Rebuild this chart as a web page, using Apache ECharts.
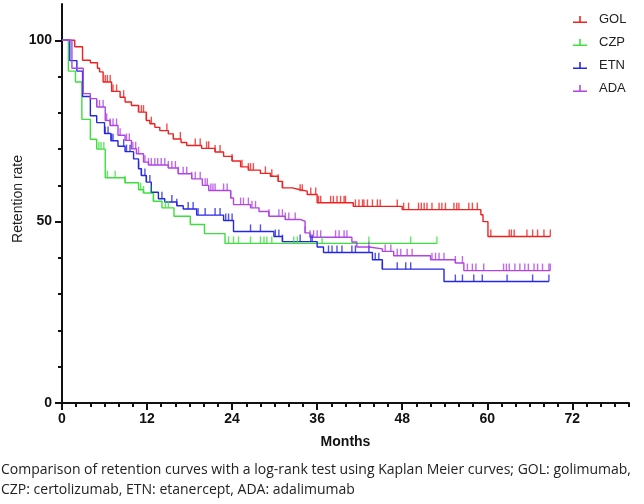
<!DOCTYPE html>
<html lang="en">
<head>
    <meta charset="UTF-8">
    <title>Retention curves</title>
    <script type="text/javascript" src="https://cdn.jsdelivr.net/npm/echarts@6/dist/echarts.min.js"></script>
    <style>
        body { margin: 0; background: #fff; }
        #main { width: 644px; height: 504px; }
    </style>
</head>
<body>
<div id="main"></div>

<script>
    // step points (months, retention %)
    var golT = [0, 1.8, 2.9, 4.0, 5.0, 5.3, 5.8, 7.0, 8.2, 8.9, 9.8, 10.8, 11.9, 12.4, 13.1, 13.8, 15.0, 15.7, 16.8, 17.6,
        19.7, 21.6, 22.8, 24.0, 25.2, 26.3, 28.0, 29.4, 30.5, 31.1, 32.5, 33.6, 34.6, 36.0, 41.1, 48.0, 59.1, 59.4, 60.1, 68.9];
    var golV = [100, 98.2, 94.5, 93.8, 92.3, 91.3, 88.5, 85.9, 84.3, 83.0, 82.0, 80.2, 77.9, 77.0, 76.0, 75.1, 74.2, 72.8, 71.8, 71.0,
        70.2, 69.2, 68.0, 66.7, 65.1, 64.2, 63.3, 62.5, 61.1, 59.3, 58.8, 58.4, 57.5, 55.2, 54.2, 53.3, 51.9, 50.0, 45.9, 45.9];

    var czpT = [0, 0.9, 1.9, 2.8, 4.0, 4.9, 6.1, 8.9, 10.8, 11.5, 12.9, 14.1, 15.8, 18.1, 20.1, 23.0, 52.9];
    var czpV = [100, 91.5, 88.5, 78.2, 72.7, 70.0, 62.1, 60.7, 58.8, 57.9, 55.6, 53.8, 51.5, 49.2, 46.7, 44.0, 44.0];

    var etnT = [0, 1.1, 2.1, 2.9, 4.0, 4.9, 6.0, 6.9, 7.9, 8.9, 10.1, 10.8, 11.2, 11.9, 12.6, 13.6, 14.5, 16.2, 17.1, 19.0,
        22.8, 24.2, 29.9, 31.1, 36.0, 36.9, 43.8, 45.2, 53.9, 68.7];
    var etnV = [100, 94.4, 91.5, 84.5, 79.2, 77.3, 74.3, 72.3, 70.8, 69.3, 67.3, 64.6, 62.7, 60.9, 58.1, 56.3, 55.4, 54.4, 53.5, 51.8,
        50.3, 47.3, 45.9, 44.5, 43.0, 41.5, 39.5, 36.9, 33.5, 33.5];

    var adaT = [0, 1.4, 3.0, 4.0, 4.9, 6.1, 6.8, 7.9, 8.9, 9.8, 10.5, 11.5, 12.2, 15.0, 16.4, 18.3, 19.8, 20.7, 23.8, 24.2,
        26.6, 27.8, 29.2, 31.5, 33.6, 34.3, 35.0, 40.9, 41.6, 43.3, 45.2, 46.8, 52.0, 55.5, 56.7, 68.9];
    var adaV = [100, 92.3, 85.3, 83.9, 81.6, 77.9, 76.5, 73.8, 72.4, 70.1, 68.7, 66.4, 65.6, 64.8, 63.2, 61.8, 60.0, 58.6, 56.5, 54.7,
        53.8, 52.8, 51.5, 50.6, 50.1, 46.9, 45.7, 44.4, 43.0, 42.5, 41.8, 40.6, 39.5, 38.6, 36.5, 36.5];

    // censored times (months)
    var golCens = [6.1, 6.4, 6.8, 7.2, 7.7, 8.7, 10.8, 11.2, 11.5, 11.9, 12.6, 14.8, 16.7, 18.8, 19.5, 20.4, 20.7, 21.6, 22.3, 24.0,
        25.4, 26.3, 26.6, 27.0, 28.7, 29.6, 30.5, 31.1, 33.6, 33.9, 35.1, 35.8, 36.2, 36.5, 37.9, 38.3, 38.8, 39.3, 39.8, 40.0,
        41.4, 41.9, 42.4, 42.6, 43.1, 43.8, 44.5, 44.9, 47.3, 48.2, 48.9, 50.3, 50.7, 51.1, 51.5, 52.2, 53.2, 53.6, 54.1, 55.3,
        55.7, 56.0, 57.4, 57.9, 58.6, 60.5, 63.1, 63.4, 63.8, 65.6, 66.4, 67.1, 68.0, 68.9];
    var czpCens = [5.2, 5.5, 5.9, 6.4, 7.5, 8.9, 11.1, 11.5, 12.5, 12.9, 14.6, 15.0, 23.5, 24.2, 24.9, 26.6, 28.0, 28.5, 28.9, 29.6,
        32.7, 33.2, 36.7, 43.3, 49.2, 52.9];
    var etnCens = [6.1, 6.5, 7.0, 7.2, 8.7, 9.1, 9.6, 10.8, 11.2, 11.7, 11.9, 12.4, 14.1, 15.5, 16.2, 17.8, 18.5, 19.2, 20.2, 21.6,
        22.3, 23.1, 23.5, 24.0, 26.6, 28.0, 30.1, 30.6, 31.1, 33.6, 35.1, 35.3, 37.6, 38.1, 38.8, 39.5, 40.9, 41.4, 43.3, 44.2,
        44.7, 45.2, 47.3, 48.5, 49.2, 55.5, 56.5, 58.1, 59.3, 62.8, 66.4, 68.7];
    var adaCens = [4.9, 5.3, 5.8, 6.3, 6.8, 7.2, 7.7, 8.2, 9.1, 9.5, 10.0, 10.4, 10.8, 11.7, 12.2, 12.6, 13.1, 13.5, 14.0, 14.5,
        15.0, 15.5, 16.0, 16.4, 17.1, 17.6, 18.3, 18.8, 19.5, 20.2, 20.5, 21.0, 21.3, 21.6, 22.8, 23.3, 23.8, 25.2, 25.6, 26.3,
        26.8, 27.3, 29.2, 30.6, 31.1, 31.5, 32.0, 32.9, 34.3, 35.0, 35.5, 36.0, 36.5, 38.6, 39.1, 39.8, 40.2, 43.3, 45.6, 46.4,
        47.3, 47.8, 48.7, 49.4, 52.2, 52.7, 53.2, 53.9, 55.5, 56.5, 57.2, 57.9, 58.4, 59.5, 62.3, 62.7, 63.1, 63.9, 64.6, 65.3,
        65.8, 66.6, 67.1, 67.8, 68.7, 68.9];

    var names = ['GOL', 'CZP', 'ETN', 'ADA'];
    var colors = ['#f02020', '#3ce03c', '#2626e6', '#b044e6'];
    var xLabels = [0, 12, 24, 36, 48, 60, 72];
    var yLabels = [0, 50, 100];
</script>

<script>
    var groups = [
        [golT, golV, golCens],
        [czpT, czpV, czpCens],
        [etnT, etnV, etnCens],
        [adaT, adaV, adaCens]
    ];

    function valueAt(ts, vs, t) {
        var v = vs[0];
        for (var i = 0; i < ts.length; i++) {
            if (ts[i] <= t + 1e-9) v = vs[i];
        }
        return v;
    }

    var series = [];
    groups.forEach(function (g, k) {
        series.push({
            name: names[k],
            type: 'line',
            step: 'end',
            showSymbol: false,
            silent: true,
            z: 3,
            lineStyle: { width: 1.4, color: colors[k] },
            itemStyle: { color: colors[k] },
            data: g[0].map(function (t, i) { return [t, g[1][i]]; })
        });
        series.push({
            name: names[k],
            type: 'scatter',
            silent: true,
            z: 3,
            symbol: 'rect',
            symbolSize: [1.4, 7],
            symbolOffset: [0, -3.5],
            itemStyle: { color: colors[k] },
            data: g[2].map(function (t) { return [t, valueAt(g[0], g[1], t)]; })
        });
    });

    var minorX = [];
    for (var x = 0; x <= 80; x += 2) minorX.push(x);
    var minorY = [];
    for (var y = 0; y <= 100; y += 10) minorY.push(y);

    var axisFont = { fontFamily: 'Liberation Sans', fontWeight: 'bold', fontSize: 14, color: '#111' };

    var myChart = echarts.init(document.getElementById('main'));
    myChart.setOption({
        animation: false,
        backgroundColor: '#fff',
        grid: { left: 62, right: 15, top: 4, bottom: 101 },
        legend: {
            orient: 'vertical',
            left: 568,
            top: 8,
            itemWidth: 18,
            itemHeight: 7,
            itemGap: 10,
            icon: 'path://M0,7h18v2h-18z M8,0h2v7h-2z',
            itemStyle: { borderWidth: 0 },
            textStyle: { fontFamily: 'Liberation Sans', fontSize: 13, color: '#222', padding: [0, 0, 0, 5] },
            data: names
        },
        xAxis: [{
            type: 'value', min: 0, max: 80,
            name: 'Months', nameLocation: 'middle', nameGap: 32,
            nameTextStyle: { fontFamily: 'Liberation Sans', fontWeight: 'bold', fontSize: 14, color: '#111' },
            axisLine: { lineStyle: { color: '#111', width: 2 } },
            axisTick: { customValues: minorX, length: 4, lineStyle: { color: '#111', width: 2 } },
            axisLabel: Object.assign({ customValues: xLabels, margin: 9 }, axisFont),
            splitLine: { show: false }
        }, {
            type: 'value', min: 0, max: 80,
            axisLine: { show: false },
            axisTick: { customValues: xLabels, length: 7, lineStyle: { color: '#111', width: 2 } },
            axisLabel: { show: false },
            splitLine: { show: false },
            position: 'bottom'
        }],
        yAxis: [{
            type: 'value', min: 0, max: 110,
            axisLine: { lineStyle: { color: '#111', width: 2 } },
            axisTick: { customValues: minorY, length: 4, lineStyle: { color: '#111', width: 2 } },
            axisLabel: Object.assign({ customValues: yLabels, margin: 10 }, axisFont),
            splitLine: { show: false }
        }, {
            type: 'value', min: 0, max: 110,
            position: 'left',
            axisLine: { show: false },
            axisTick: { customValues: yLabels, length: 7, lineStyle: { color: '#111', width: 2 } },
            axisLabel: { show: false },
            splitLine: { show: false }
        }],
        graphic: [{
            type: 'text',
            left: 11, top: 155,
            rotation: Math.PI / 2,
            style: {
                text: 'Retention rate',
                font: '14px "Liberation Sans"',
                fill: '#222'
            }
        }, {
            type: 'text',
            left: 1, top: 460,
            style: {
                text: 'Comparison of retention curves with a log-rank test using Kaplan Meier curves; GOL: golimumab,\nCZP: certolizumab, ETN: etanercept, ADA: adalimumab',
                font: '14px "Open Sans"',
                lineHeight: 20,
                fill: '#222'
            }
        }],
        series: series
    });
</script>

</body>
</html>
